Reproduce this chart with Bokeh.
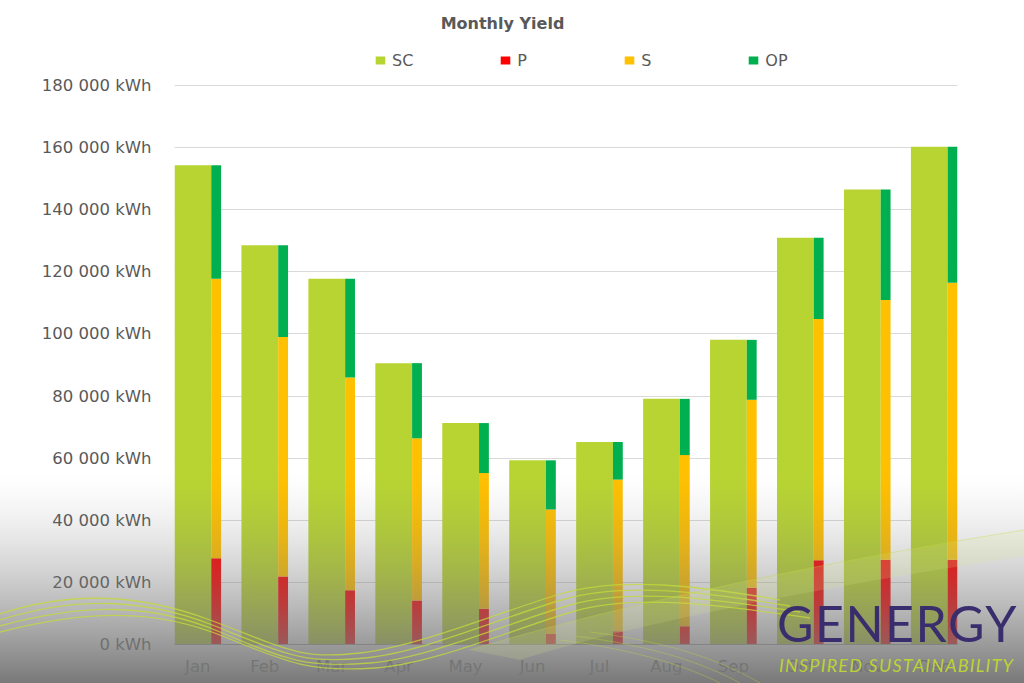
from bokeh.plotting import figure
from bokeh.layouts import column
from bokeh.models import (Range1d, FixedTicker, Legend, LegendItem, Label,
                          ColumnDataSource, Div)
from bokeh.transform import dodge
from bokeh.embed import file_html
from bokeh.resources import INLINE

# Monthly yield (kWh)
months = ["Jan", "Feb", "Mar", "Apr", "May", "Jun",
          "Jul", "Aug", "Sep", "Oct", "Nov", "Dec"]
sc = [154300, 128600, 117800, 90600, 71300, 59300,
      65200, 79100, 98100, 131000, 146500, 160300]
p_part = [27800, 21900, 17500, 14200, 11500, 3400,
          4300, 5900, 18300, 27100, 27300, 27300]
s_part = [90000, 77100, 68500, 52200, 43700, 40100,
          48800, 55100, 60500, 77700, 83600, 89200]
op_part = [36500, 29600, 31800, 24200, 16100, 15800,
           12100, 18100, 19300, 26200, 35600, 43800]

y_ticks = [0, 20000, 40000, 60000, 80000, 100000, 120000, 140000, 160000, 180000]
y_labels = ["0 kWh", "20 000 kWh", "40 000 kWh", "60 000 kWh", "80 000 kWh",
            "100 000 kWh", "120 000 kWh", "140 000 kWh", "160 000 kWh", "180 000 kWh"]

C_SC, C_P, C_S, C_OP = "#B8D432", "#FF0000", "#FFC000", "#00B050"
TXT = "#595959"
FONT = "DejaVu Sans"

W, H = 1024, 683
LEFT, RIGHT, BOTTOM = 174, 67, 39
AXIS_TOP_PX = 85                     # pixel row of the top gridline
FRAME_H = H - BOTTOM
y_max = y_ticks[-1] * FRAME_H / (FRAME_H - AXIS_TOP_PX)

source = ColumnDataSource(dict(x=list(range(len(months))), SC=sc,
                               P=p_part, S=s_part, OP=op_part))

p = figure(width=W, height=H, output_backend="svg", toolbar_location=None,
           x_range=Range1d(-0.348, 11.348), y_range=Range1d(0, y_max),
           min_border_left=LEFT, min_border_right=RIGHT,
           min_border_top=0, min_border_bottom=BOTTOM, title=None)
p.outline_line_color = None
p.background_fill_color = "white"
p.border_fill_color = "white"

# wide SC bar plus a narrow P/S/OP stack beside it
sc_r = p.vbar(x=dodge("x", -0.0735, range=p.x_range), top="SC", width=0.549,
              source=source, color=C_SC, line_color=None)
stack = p.vbar_stack(["P", "S", "OP"], x=dodge("x", 0.2745, range=p.x_range),
                     width=0.147, source=source, color=[C_P, C_S, C_OP],
                     line_color=None)

# axes and grid
p.xgrid.visible = False
p.ygrid.ticker = FixedTicker(ticks=y_ticks)
p.ygrid.grid_line_color = "#D9D9D9"
p.ygrid.grid_line_width = 1
p.yaxis.ticker = FixedTicker(ticks=y_ticks)
p.yaxis.major_label_overrides = {t: s for t, s in zip(y_ticks, y_labels)}
p.yaxis.axis_line_color = None
p.yaxis.major_tick_line_color = None
p.yaxis.minor_tick_line_color = None
p.yaxis.major_label_standoff = 17
p.xaxis.ticker = FixedTicker(ticks=list(range(len(months))))
p.xaxis.major_label_overrides = {i: m for i, m in enumerate(months)}
p.xaxis.axis_line_color = "#A6A6A6"
p.xaxis.major_tick_line_color = None
p.xaxis.minor_tick_line_color = None
p.xaxis.major_label_standoff = 6
for ax in (p.xaxis[0], p.yaxis[0]):
    ax.major_label_text_font = FONT
    ax.major_label_text_font_size = "16.5px"
    ax.major_label_text_color = TXT

legend = Legend(items=[LegendItem(label="SC", renderers=[sc_r]),
                       LegendItem(label="P", renderers=[stack[0]]),
                       LegendItem(label="S", renderers=[stack[1]]),
                       LegendItem(label="OP", renderers=[stack[2]])],
                orientation="horizontal", location=(374 - LEFT, FRAME_H - 70),
                border_line_color=None, background_fill_alpha=0,
                glyph_width=12, glyph_height=10, label_standoff=6,
                spacing=86, padding=0, margin=0, label_height=20,
                label_text_font=FONT, label_text_font_size="16px",
                label_text_color=TXT)
p.add_layout(legend)
p.add_layout(Label(x=502 - LEFT, y=FRAME_H - 23, x_units="screen",
                   y_units="screen", text="Monthly Yield", text_align="center",
                   text_baseline="middle", text_font=FONT,
                   text_font_size="16px", text_font_style="bold",
                   text_color=TXT))

# grey fade over the lower part of the page, with the brand mark on top
fade_top = 470
stops = ["rgba(120,120,120,0) 0px", "rgba(120,120,120,0) %dpx" % fade_top]
for yy in range(fade_top + 8, H + 8, 8):
    tt = min((yy - fade_top) / (H - fade_top), 1.0)
    stops.append("rgba(120,120,120,%.3f) %dpx" % (tt ** 1.5, yy))
gradient = "linear-gradient(to bottom, %s)" % ", ".join(stops)

waves = """
<svg width="1024" height="683" style="position:absolute;left:0;top:0">
 <g fill="none" stroke="#C6DB3A" stroke-opacity="0.75" stroke-width="1.3">
  <path d="M0,614 C60,594 130,590 210,620 S300,660 360,653 S500,612 560,594 S700,586 780,600"/>
  <path d="M0,620 C70,598 140,596 215,626 S305,664 365,658 S505,616 565,599 S705,592 790,606"/>
  <path d="M0,626 C80,604 150,602 220,632 S310,668 370,663 S510,622 570,605 S710,598 800,612"/>
  <path d="M0,632 C85,610 155,608 225,637 S315,672 375,668 S515,628 575,611 S715,604 810,618"/>
 </g>
 <path d="M470,650 C600,610 800,566 1024,530 L1024,556 C800,590 620,628 520,660 Z"
       fill="#D8E68A" fill-opacity="0.18" stroke="none"/>
 <g fill="none" stroke="#C6DB3A" stroke-opacity="0.35" stroke-width="1">
  <path d="M470,650 C600,610 800,566 1024,530"/>
  <path d="M560,640 C640,650 690,668 720,683"/>
  <path d="M575,636 C655,646 705,664 740,683"/>
  <path d="M590,632 C670,642 720,660 760,683"/>
 </g>
</svg>
"""
brand_html = """
<div style="position:relative;width:%dpx;height:%dpx;background:%s;overflow:hidden">
 %s
 <div style="position:absolute;left:777px;top:598px;font-family:Lato;font-weight:400;
      font-size:50px;line-height:1;color:#3A2D6E;letter-spacing:1.5px;white-space:nowrap">GENERGY</div>
 <div style="position:absolute;left:779px;top:656px;font-family:Lato;font-style:italic;
      font-size:18px;line-height:1;color:#BCD334;letter-spacing:1.2px;white-space:nowrap">INSPIRED SUSTAINABILITY</div>
</div>
""" % (W, H, gradient, waves)
overlay = Div(text=brand_html, width=W, height=H,
              styles={"position": "absolute", "left": "0px", "top": "0px",
                      "z-index": "2", "pointer-events": "none",
                      "margin": "0px", "padding": "0px"})

page = column(p, overlay)
open("out.html", "w").write(file_html(page, INLINE))
